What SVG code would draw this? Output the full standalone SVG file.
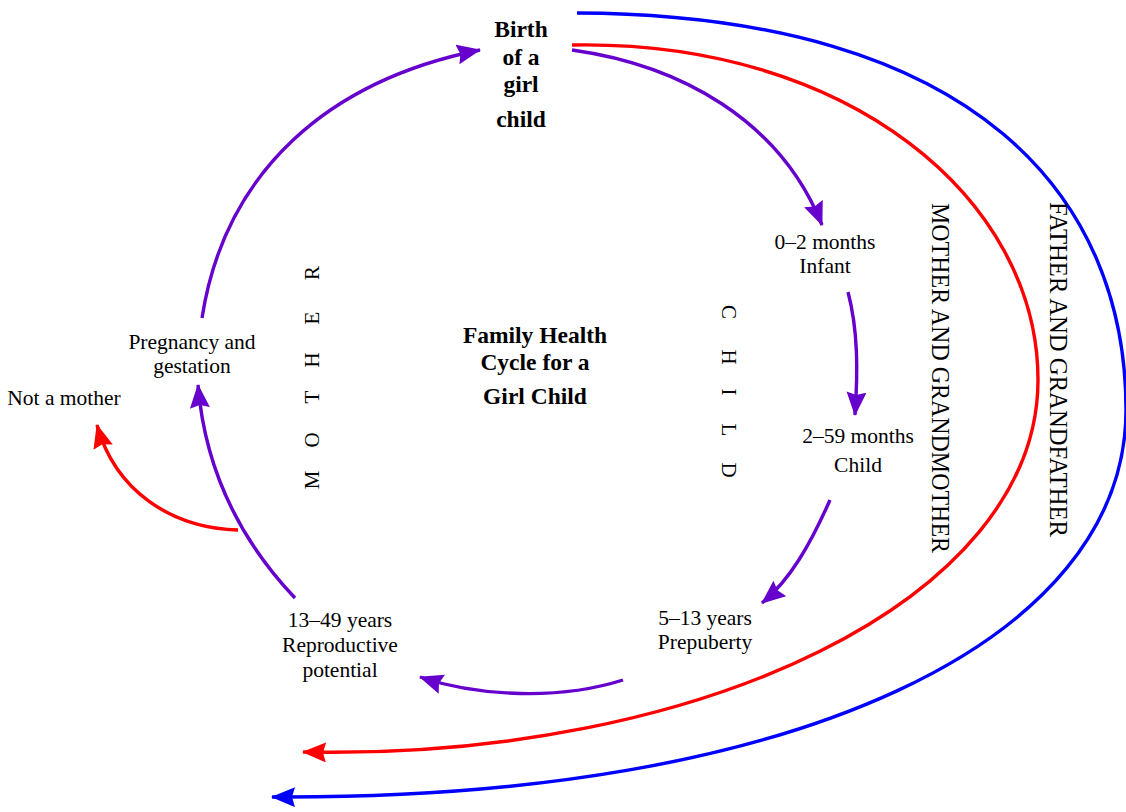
<svg xmlns="http://www.w3.org/2000/svg" width="1126" height="812" viewBox="0 0 1126 812">
<style>
text{font-family:"Liberation Serif","Times New Roman",serif;fill:#000}
.lbl{font-size:21.5px;text-anchor:middle}
.bold{font-size:23.5px;font-weight:bold;text-anchor:middle}
.sp{font-size:21px;text-anchor:middle}
.side{font-size:26px}
.p{fill:none;stroke:#6600cc;stroke-width:3.4}
.r{fill:none;stroke:#ff0000;stroke-width:3.4}
.b{fill:none;stroke:#0000ff;stroke-width:3.4}
</style>
<defs>
<marker id="mp" markerUnits="userSpaceOnUse" markerWidth="26" markerHeight="22" refX="23" refY="10" orient="auto" viewBox="0 0 26 22"><path d="M0,0 L24,10 L0,20 L3,10 z" fill="#6600cc"/></marker>
<marker id="mr" markerUnits="userSpaceOnUse" markerWidth="26" markerHeight="22" refX="23" refY="10" orient="auto" viewBox="0 0 26 22"><path d="M0,0 L24,10 L0,20 L3,10 z" fill="#ff0000"/></marker>
<marker id="mb" markerUnits="userSpaceOnUse" markerWidth="26" markerHeight="22" refX="23" refY="10" orient="auto" viewBox="0 0 26 22"><path d="M0,0 L24,10 L0,20 L3,10 z" fill="#0000ff"/></marker>
</defs>
<g id="connectors">
<path class="p" d="M202,318 C225,170 330,80 480,50" marker-end="url(#mp)"/>
<path class="p" d="M572,50 C680,65 780,120 822,225" marker-end="url(#mp)"/>
<path class="p" d="M848,292 C858,330 858,370 855,415" marker-end="url(#mp)"/>
<path class="p" d="M830,500 C810,545 790,580 762,603" marker-end="url(#mp)"/>
<path class="p" d="M623,680 C560,700 480,697 420,677" marker-end="url(#mp)"/>
<path class="p" d="M295,598 C240,540 205,470 198,385" marker-end="url(#mp)"/>
<path class="r" d="M238,530 C170,528 115,490 97,425" marker-end="url(#mr)"/>
<path class="r" d="M572,45 C850,40 1038,200 1038,380 C1038,600 700,760 303,752" marker-end="url(#mr)"/>
<path class="b" d="M577,13 C980,15 1126,200 1126,410 C1126,640 800,800 272,797" marker-end="url(#mb)"/>
</g>
<g id="birth">
<text class="bold" x="521" y="37">Birth</text>
<text class="bold" x="521" y="65">of a</text>
<text class="bold" x="521" y="92">girl</text>
<text class="bold" x="521" y="127">child</text>
</g>
<g id="title">
<text class="bold" x="535" y="343">Family Health</text>
<text class="bold" x="535" y="370">Cycle for a</text>
<text class="bold" x="535" y="404">Girl Child</text>
</g>
<g id="infant">
<text class="lbl" x="825" y="249">0–2 months</text>
<text class="lbl" x="825" y="273">Infant</text>
</g>
<g id="child">
<text class="lbl" x="858" y="443">2–59 months</text>
<text class="lbl" x="858" y="472">Child</text>
</g>
<g id="prepuberty">
<text class="lbl" x="705" y="625">5–13 years</text>
<text class="lbl" x="705" y="649">Prepuberty</text>
</g>
<g id="reproductive">
<text class="lbl" x="340" y="627">13–49 years</text>
<text class="lbl" x="340" y="652">Reproductive</text>
<text class="lbl" x="340" y="677">potential</text>
</g>
<g id="pregnancy">
<text class="lbl" x="192" y="349">Pregnancy and</text>
<text class="lbl" x="192" y="373">gestation</text>
</g>
<g id="notmother">
<text class="lbl" x="64" y="405">Not a mother</text>
</g>
<g id="mother-label">
<text class="sp" transform="translate(319,0) rotate(-90)" x="-480 -440 -397 -360 -318 -273">MOTHER</text>
</g>
<g id="child-label">
<text class="sp" transform="translate(722,0) rotate(90)" x="312 357 392 430 470">CHILD</text>
</g>
<g id="mg-label">
<text class="side" transform="translate(932,203) rotate(90)" textLength="350" lengthAdjust="spacingAndGlyphs">MOTHER AND GRANDMOTHER</text>
</g>
<g id="fg-label">
<text class="side" transform="translate(1050,202) rotate(90)" textLength="335" lengthAdjust="spacingAndGlyphs">FATHER AND GRANDFATHER</text>
</g>
</svg>
